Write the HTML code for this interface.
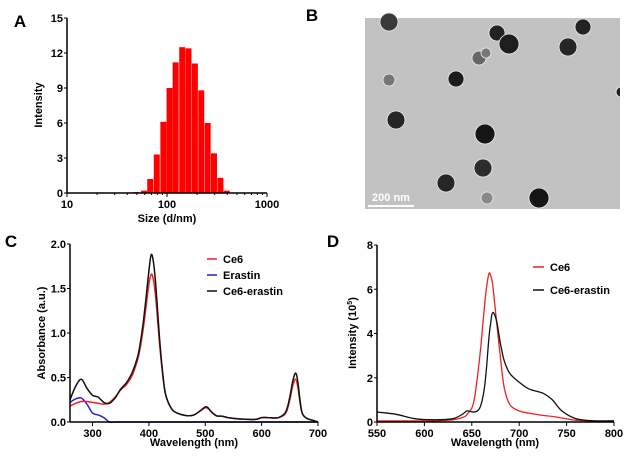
<!DOCTYPE html>
<html><head><meta charset="utf-8"><style>
body{margin:0;background:#fff;}
svg{display:block;font-family:"Liberation Sans",Arial,sans-serif;font-weight:bold;}
</style></head><body>
<svg id="fig" width="627" height="457" viewBox="0 0 627 457">
<g id="tem"></g>
</svg>
<script>
// Panel A data
const aSizes=[36,42,49,59,68,79,92,106,122,142,164,190,220,255,295,342,396];
const aIntensity=[0.03,0.05,0.08,0.2,1.2,3.3,6.1,9.0,11.2,12.5,12.4,11.1,8.8,6.0,3.4,1.3,0.2];
const aYTicks=[0,3,6,9,12,15];
const aXTicks=[10,100,1000];
// Panel C data
const cWl=[260,270,280,290,300,310,320,330,340,350,360,370,380,385,390,395,400,404,408,412,416,420,425,430,440,450,460,470,480,490,500,505,510,520,530,540,550,570,590,600,610,620,630,640,645,650,655,660,664,668,672,680,690,700];
const cCe6=[0.18,0.21,0.23,0.23,0.22,0.21,0.2,0.22,0.28,0.36,0.42,0.52,0.7,0.85,1.05,1.3,1.55,1.66,1.6,1.4,1.1,0.8,0.5,0.3,0.15,0.1,0.08,0.07,0.08,0.12,0.16,0.15,0.12,0.07,0.065,0.05,0.04,0.03,0.03,0.05,0.05,0.045,0.05,0.08,0.13,0.25,0.4,0.48,0.4,0.22,0.1,0.04,0.02,0.0];
const cMix=[0.25,0.4,0.48,0.38,0.3,0.28,0.22,0.21,0.27,0.37,0.44,0.55,0.73,0.9,1.12,1.4,1.7,1.88,1.8,1.55,1.2,0.85,0.52,0.3,0.15,0.1,0.08,0.07,0.08,0.12,0.17,0.16,0.12,0.07,0.065,0.05,0.04,0.03,0.03,0.05,0.05,0.045,0.05,0.09,0.15,0.28,0.45,0.55,0.46,0.25,0.1,0.04,0.02,0.0];
const cEra=[0.22,0.26,0.27,0.2,0.1,0.08,0.05,0.0,0,0,0,0,0,0,0,0,0,0,0,0,0,0,0,0,0,0,0,0,0,0,0,0,0,0,0,0,0,0,0,0,0,0,0,0,0,0,0,0,0,0,0,0,0,0];
const cXTicks=[300,400,500,600,700];
const cYTicks=[0,0.5,1.0,1.5,2.0];
// Panel D data
const dWl=[550,570,590,610,630,640,645,652,658,662,665,668,670,672,676,680,684,690,700,710,725,735,745,760,780,800];
const dCe6=[0.05,0.05,0.05,0.05,0.1,0.2,0.35,0.9,2.8,4.6,5.9,6.7,6.6,6.2,4.6,3.0,1.6,0.8,0.5,0.4,0.3,0.25,0.18,0.08,0.05,0.05];
const dMix=[0.45,0.35,0.15,0.1,0.15,0.35,0.5,0.45,0.6,1.2,2.2,3.8,4.5,4.95,4.6,3.6,2.8,2.2,1.8,1.5,1.3,1.0,0.5,0.15,0.05,0.05];
const dXTicks=[550,600,650,700,750,800];
const dYTicks=[0,2,4,6,8];

const NS="http://www.w3.org/2000/svg";
const svg=document.getElementById('fig');
function mk(tag,attrs,parent){const e=document.createElementNS(NS,tag);for(const k in attrs)e.setAttribute(k,attrs[k]);(parent||svg).appendChild(e);return e;}
function txt(x,y,s,size,anchor,name,rot){const t=mk('text',{x:x,y:y,'font-size':size,'text-anchor':anchor||'middle'});if(rot)t.setAttribute('transform','rotate(-90 '+x+' '+y+')');t.textContent=s;


return t;}
function lin(d0,d1,r0,r1){return v=>r0+(v-d0)/(d1-d0)*(r1-r0);}
function smooth(pts){let d='M'+pts[0][0]+','+pts[0][1];for(let i=0;i<pts.length-1;i++){const p0=pts[Math.max(0,i-1)],p1=pts[i],p2=pts[i+1],p3=pts[Math.min(pts.length-1,i+2)];
const c1=[p1[0]+(p2[0]-p0[0])/6,p1[1]+(p2[1]-p0[1])/6],c2=[p2[0]-(p3[0]-p1[0])/6,p2[1]-(p3[1]-p1[1])/6];d+='C'+c1[0].toFixed(1)+','+c1[1].toFixed(1)+' '+c2[0].toFixed(1)+','+c2[1].toFixed(1)+' '+p2[0].toFixed(1)+','+p2[1].toFixed(1);}return d;}
function axes(x0,x1,y0,y1,prefix){
 const ya=mk('line',{x1:x0,y1:y0,x2:x0,y2:y1,stroke:'#000','stroke-width':1.5});
 
 
 const xa=mk('line',{x1:x0,y1:y0,x2:x1,y2:y0,stroke:'#000','stroke-width':1.5});
 
 
}
// ---------- Panel A ----------
(function(){
 const X0=67,X1=267,Y0=193,Y1=18;
 const sx=v=>X0+(Math.log10(v)-1)/2*(X1-X0), sy=lin(0,15,Y0,Y1);
 const bw=6;
 aSizes.forEach((s,i)=>{const x=sx(s),y=sy(aIntensity[i]);const r=mk('rect',{x:x-bw/2,y:y,width:bw,height:Y0-y,fill:'#ff0000'});
 
 });
 axes(X0,X1,Y0,Y1,'a');
 aYTicks.forEach(v=>{mk('line',{x1:X0-3,y1:sy(v),x2:X0,y2:sy(v),stroke:'#000'});txt(X0-4,sy(v)+4,String(v),11,'end','a-y-tick');});
 for(let d=1;d<3;d++)for(let m=1;m<10;m++){const v=Math.pow(10,d)*m;mk('line',{x1:sx(v),y1:Y0,x2:sx(v),y2:Y0+(m==1?4:2),stroke:'#000'});}
 mk('line',{x1:X1,y1:Y0,x2:X1,y2:Y0+4,stroke:'#000'});
 aXTicks.forEach(v=>txt(sx(v),Y0+15,String(v),11,'middle','a-x-tick'));
 txt(167,222,'Size (d/nm)',11,'middle','a-x-axis-title');
 txt(42,105,'Intensity',11,'middle','a-y-axis-title',true);
 txt(20,27,'A',17,'middle','panel-a-label');
})();
// ---------- Panel B (TEM) ----------
(function(){
 const g=document.getElementById('tem');
 mk('rect',{x:365,y:18,width:255,height:191,fill:'#c2c2c2'},g);
 const parts=[[389,22,9,'#3a3a3a'],[497,33,8,'#222'],[509,44,10,'#1e1e1e'],[583,27,8,'#222'],[568,47,9,'#262626'],[479,58,7,'#666'],[486,53,5,'#777'],[456,79,8,'#1c1c1c'],[389,80,6,'#777'],[396,120,9,'#262626'],[485,134,10,'#161616'],[483,168,9,'#2c2c2c'],[446,183,9,'#262626'],[539,198,10,'#161616'],[487,198,6,'#888'],[621,92,5,'#222']];
 parts.forEach(p=>{const c=mk('circle',{cx:p[0],cy:p[1],r:p[2],fill:p[3],stroke:'#eee','stroke-width':0.8},g);
 
 });
 mk('rect',{x:620,y:18,width:7,height:195,fill:'#fff'},g);
 const sb=mk('line',{x1:368,y1:206,x2:414,y2:206,stroke:'#fff','stroke-width':2});
 
 
 const t=txt(391,201,'200 nm',11,'middle','scale-bar-label');t.setAttribute('fill','#fff');
 txt(312,21,'B',17,'middle','panel-b-label');
})();
// ---------- Panel C ----------
(function(){
 const X0=70,X1=318,Y0=422,Y1=244;
 const sx=lin(260,700,X0,X1), sy=lin(0,2,Y0,Y1);
 [[cEra,'#2222cc','erastin-line'],[cCe6,'#ee2222','ce6-line'],[cMix,'#111','ce6-erastin-line']].forEach(s=>{
  const p=mk('path',{d:smooth(cWl.map((w,i)=>[sx(w),sy(s[0][i])])),fill:'none',stroke:s[1],'stroke-width':1.5});
  
  });
 axes(X0,X1,Y0,Y1,'c');
 cYTicks.forEach(v=>{mk('line',{x1:X0-3,y1:sy(v),x2:X0,y2:sy(v),stroke:'#000'});txt(X0-4,sy(v)+4,v.toFixed(1),11,'end','c-y-tick');});
 cXTicks.forEach(v=>{mk('line',{x1:sx(v),y1:Y0,x2:sx(v),y2:Y0+4,stroke:'#000'});txt(sx(v),Y0+15,String(v),11,'middle','c-x-tick');});
 txt(194,446,'Wavelength (nm)',11,'middle','c-x-axis-title');
 txt(45,333,'Absorbance (a.u.)',11,'middle','c-y-axis-title',true);
 [['Ce6','#ee2222',263],['Erastin','#2222cc',279],['Ce6-erastin','#111',295]].forEach(l=>{
  const ln=mk('line',{x1:207,y1:l[2]-4,x2:217,y2:l[2]-4,stroke:l[1],'stroke-width':1.5});
  
  
  txt(223,l[2],l[0],11,'start','legend-entry');});
 txt(11,247,'C',17,'middle','panel-c-label');
})();
// ---------- Panel D ----------
(function(){
 const X0=377,X1=614,Y0=422,Y1=245;
 const sx=lin(550,800,X0,X1), sy=lin(0,8,Y0,Y1);
 [[dCe6,'#ee2222','ce6-fluorescence'],[dMix,'#111','ce6-erastin-fluorescence']].forEach(s=>{
  const p=mk('path',{d:smooth(dWl.map((w,i)=>[sx(w),sy(s[0][i])])),fill:'none',stroke:s[1],'stroke-width':1.3});
  
  });
 axes(X0,X1,Y0,Y1,'d');
 dYTicks.forEach(v=>{mk('line',{x1:X0-3,y1:sy(v),x2:X0,y2:sy(v),stroke:'#000'});txt(X0-4,sy(v)+4,String(v),11,'end','d-y-tick');});
 dXTicks.forEach(v=>{mk('line',{x1:sx(v),y1:Y0,x2:sx(v),y2:Y0+4,stroke:'#000'});txt(sx(v),Y0+15,String(v),11,'middle','d-x-tick');});
 txt(495,446,'Wavelength (nm)',11,'middle','d-x-axis-title');
 const yt=txt(356,333,'Intensity (10',11,'middle','d-y-axis-title',true);
 const sup=mk('tspan',{'font-size':7,dy:-4});sup.textContent='5';yt.appendChild(sup);
 const cl=mk('tspan',{'font-size':11,dy:4});cl.textContent=')';yt.appendChild(cl);
 [['Ce6','#ee2222',271],['Ce6-erastin','#111',294]].forEach(l=>{
  const ln=mk('line',{x1:533,y1:l[2]-4,x2:544,y2:l[2]-4,stroke:l[1],'stroke-width':1.5});
  
  
  txt(550,l[2],l[0],11,'start','legend-entry');});
 txt(333,247,'D',17,'middle','panel-d-label');
})();
</script>
</body></html>
